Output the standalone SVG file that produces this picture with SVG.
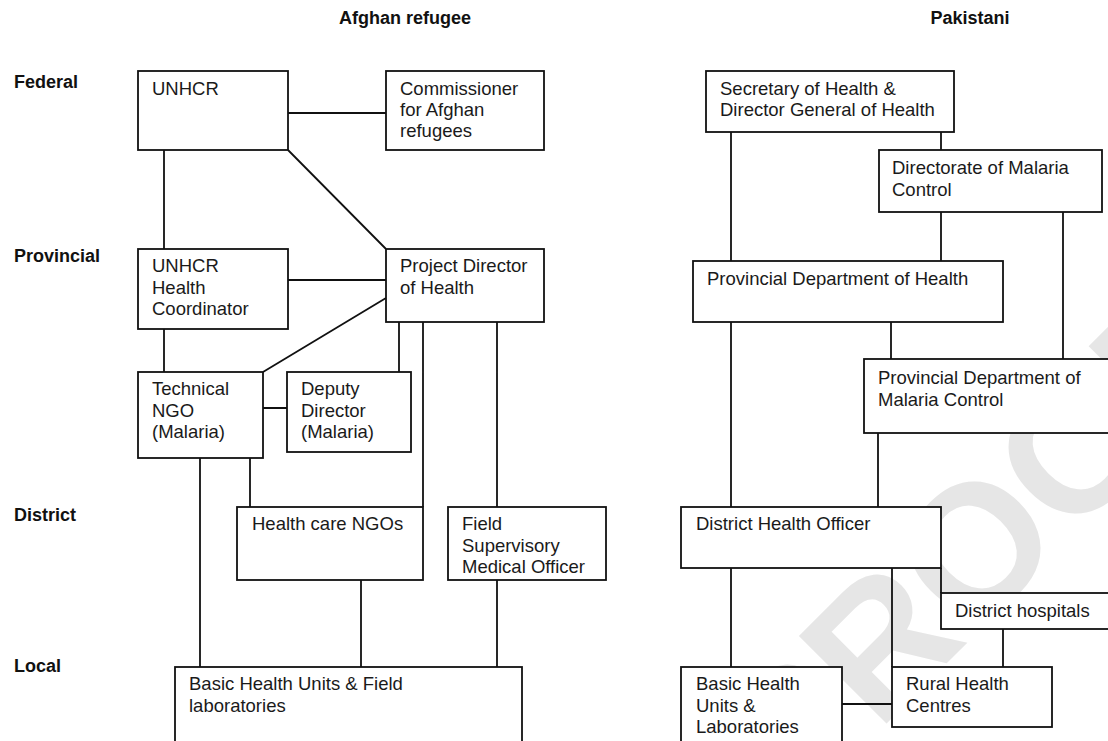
<svg xmlns="http://www.w3.org/2000/svg" width="1108" height="741" viewBox="0 0 1108 741">
<style>
.box{fill:#fff;stroke:#111;stroke-width:1.8}
.t{font-family:"Liberation Sans",Arial,sans-serif;font-size:18.5px;fill:#1a1a1a}
.h{font-family:"Liberation Sans",Arial,sans-serif;font-size:18px;font-weight:bold;fill:#111}
.c{stroke:#111;stroke-width:1.8;fill:none}
.wm{font-family:"Liberation Sans",Arial,sans-serif;font-size:180px;font-weight:bold;fill:#e6e6e6}
</style>
<rect width="1108" height="741" fill="#fff"/>
<text class="wm" x="793" y="817" transform="rotate(-45 793 817)">PROOF</text>
<g id="headers">
<text class="h" x="405" y="24" text-anchor="middle">Afghan refugee</text>
<text class="h" x="970" y="24" text-anchor="middle">Pakistani</text>
<text class="h" x="14" y="88">Federal</text>
<text class="h" x="14" y="262">Provincial</text>
<text class="h" x="14" y="521">District</text>
<text class="h" x="14" y="672">Local</text>
</g>
<g id="connectors">
<path class="c" d="M288 113H386M164 150V249M288 150L386 249M288 280H386M164 329V372M386 298L263 372M263 408H287M399 322V372M423 322V507M497 322V507M200 458V667M250 458V507M361 580V667M497 580V667"/>
<path class="c" d="M731 132V261M941 132V150M941 212V261M1063 212V359M731 322V507M891 322V359M878 433V507M731 568V667M892 568V667M941 568V593M1003 629V667M842 704H892"/>
</g>
<g id="unhcr"><rect class="box" x="138" y="71" width="150" height="79"/><text class="t" x="152" y="95">UNHCR</text></g>
<g id="commissioner"><rect class="box" x="386" y="71" width="158" height="79"/><text class="t" x="400" y="95">Commissioner<tspan x="400" dy="21">for Afghan</tspan><tspan x="400" dy="21">refugees</tspan></text></g>
<g id="unhcr-hc"><rect class="box" x="138" y="249" width="150" height="80"/><text class="t" x="152" y="272">UNHCR<tspan x="152" dy="21.5">Health</tspan><tspan x="152" dy="21.5">Coordinator</tspan></text></g>
<g id="project-director"><rect class="box" x="386" y="249" width="158" height="73"/><text class="t" x="400" y="272">Project Director<tspan x="400" dy="21.5">of Health</tspan></text></g>
<g id="technical-ngo"><rect class="box" x="138" y="372" width="125" height="86"/><text class="t" x="152" y="395">Technical<tspan x="152" dy="21.5">NGO</tspan><tspan x="152" dy="21.5">(Malaria)</tspan></text></g>
<g id="deputy-director"><rect class="box" x="287" y="372" width="124" height="80"/><text class="t" x="301" y="395">Deputy<tspan x="301" dy="21.5">Director</tspan><tspan x="301" dy="21.5">(Malaria)</tspan></text></g>
<g id="health-care-ngos"><rect class="box" x="237" y="507" width="186" height="73"/><text class="t" x="252" y="530">Health care NGOs</text></g>
<g id="field-supervisory"><rect class="box" x="448" y="507" width="158" height="73"/><text class="t" x="462" y="530">Field<tspan x="462" dy="21.5">Supervisory</tspan><tspan x="462" dy="21.5">Medical Officer</tspan></text></g>
<g id="bhu-field"><rect class="box" x="175" y="667" width="347" height="90"/><text class="t" x="189" y="690">Basic Health Units &amp; Field<tspan x="189" dy="21.5">laboratories</tspan></text></g>
<g id="secretary"><rect class="box" x="706" y="71" width="248" height="61"/><text class="t" x="720" y="95">Secretary of Health &amp;<tspan x="720" dy="21">Director General of Health</tspan></text></g>
<g id="directorate"><rect class="box" x="879" y="150" width="223" height="62"/><text class="t" x="892" y="174">Directorate of Malaria<tspan x="892" dy="21.5">Control</tspan></text></g>
<g id="pdh"><rect class="box" x="693" y="261" width="310" height="61"/><text class="t" x="707" y="285">Provincial Department of Health</text></g>
<g id="pdmc"><rect class="box" x="864" y="359" width="260" height="74"/><text class="t" x="878" y="384">Provincial Department of<tspan x="878" dy="21.5">Malaria Control</tspan></text></g>
<g id="dho"><rect class="box" x="681" y="507" width="260" height="61"/><text class="t" x="696" y="530">District Health Officer</text></g>
<g id="district-hospitals"><rect class="box" x="941" y="593" width="180" height="36"/><text class="t" x="955" y="617">District hospitals</text></g>
<g id="bhu-labs"><rect class="box" x="681" y="667" width="161" height="90"/><text class="t" x="696" y="690">Basic Health<tspan x="696" dy="21.5">Units &amp;</tspan><tspan x="696" dy="21.5">Laboratories</tspan></text></g>
<g id="rhc"><rect class="box" x="892" y="667" width="160" height="60"/><text class="t" x="906" y="690">Rural Health<tspan x="906" dy="21.5">Centres</tspan></text></g>
</svg>
